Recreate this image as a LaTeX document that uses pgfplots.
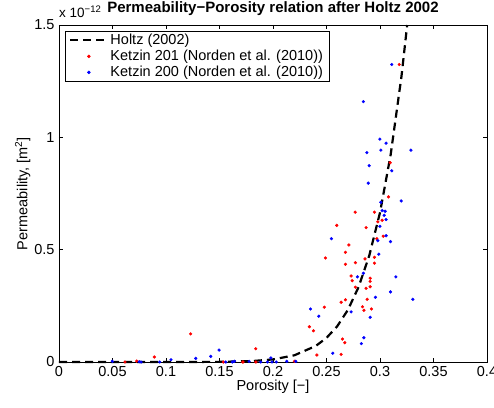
\documentclass[border=0pt]{standalone}
\usepackage{pgfplots}
\pgfplotsset{compat=1.18}
\usepackage{fontspec}
\setmainfont{Liberation Sans}
\pgfplotstableread{
phi k
0.000 0
0.050 0
0.100 0.00001
0.150 0.00065
0.180 0.0040
0.200 0.0115
0.220 0.0299
0.240 0.0714
0.250 0.1074
0.260 0.159
0.270 0.232
0.280 0.334
0.290 0.474
0.300 0.665
0.310 0.924
0.320 1.269
0.3254 1.500
}\holtz
\pgfplotstableread{
phi k
0.123 0.125
0.0891 0.0223
0.0617 0
0.0726 0.004
0.1536 0
0.1718 0
0.1839 0.059
0.184 0
0.220 0.003
0.2596 0.608
0.2709 0.521
0.2677 0.488
0.249 0.463
0.2677 0.435
0.3095 0.887
0.3079 0.735
0.2768 0.667
0.2948 0.667
0.302 0.631
0.298 0.624
0.287 0.598
0.303 0.560
0.297 0.549
0.2948 0.466
0.286 0.459
0.318 1.324
0.2637 0.266
0.2677 0.277
0.248 0.244
0.234 0.157
0.2378 0.139
0.2649 0.102
0.2671 0.086
0.241 0.031
0.2637 0.034
0.172 0
0.277 0.442
0.2948 0.44
0.273 0.383
0.274 0.362
0.2908 0.373
0.2908 0.359
0.277 0.333
0.287 0.328
0.2908 0.335
0.288 0.279
0.2836 0.246
0.292 0.236
0.285 0.230
}\ketzinA
\pgfplotstableread{
phi k
0.311 1.324
0.2845 1.159
0.2999 0.992
0.3057 0.974
0.2877 0.932
0.3008 0.943
0.3289 0.943
0.2546 0.549
0.2899 0.874
0.311 0.851
0.289 0.796
0.3198 0.717
0.3008 0.711
0.302 0.674
0.3048 0.671
0.3039 0.653
0.3057 0.634
0.2999 0.604
0.3057 0.562
0.298 0.540
0.3098 0.536
0.2989 0.480
0.235 0.236
0.2428 0.204
0.2559 0.039
0.198 0.018
0.2789 0.379
0.2845 0.395
0.3148 0.379
0.3098 0.312
0.2957 0.288
0.3307 0.279
0.273 0.223
0.2908 0.199
0.2849 0.108
0.2826 0.082
0.1496 0.053
0.1418 0.025
0.1278 0.016
0.1047 0.010
0.0498 0.003
0.075 0.001
0.0767 0
0.0942 0
0.1559 0
0.162 0
0.164 0.003
0.1777 0.003
0.1886 0
0.1948 0
0.1991 0
0.203 0
0.2129 0.003
0.2213 0.003
}\ketzinB
\begin{document}
\begin{tikzpicture}[x=1pt,y=1pt]
\path[use as bounding box] (0,0) rectangle (494,407);
\begin{axis}[
  at={(59pt,45pt)}, anchor=south west,
  width=428pt, height=337pt, scale only axis,
  xmin=0, xmax=0.4, ymin=0, ymax=1.5,
  clip=false,
  axis line style={line width=0.6pt},
  tick style={black, line width=0.6pt},
  major tick length=4pt,
  tick align=inside,
  xtick={0,0.05,0.1,0.15,0.2,0.25,0.3,0.35,0.4},
  xticklabels={0,0.05,0.1,0.15,0.2,0.25,0.3,0.35,0.4},
  ytick={0,0.5,1,1.5},
  yticklabels={0,0.5,1,1.5},
  /pgf/number format/assume math mode=true,
  tick label style={font=\fontsize{14.5}{17}\selectfont},
  xticklabel style={yshift=-1pt},
  yticklabel style={xshift=-1pt},
  xlabel={Porosity [−]},
  ylabel={Permeability, [m\textsuperscript{2}]},
  label style={font=\fontsize{14.5}{17}\selectfont},
  xlabel style={yshift=4pt},
  ylabel style={yshift=-3pt},
  legend cell align=left,
  legend style={at={(0.014,0.982)}, anchor=north west, draw=black, line width=0.6pt,
    font=\fontsize{14.5}{17}\selectfont, row sep=0pt, inner xsep=4pt, inner ysep=1pt,
    fill=white},
]
\addplot[black, line width=2.2pt, dash pattern=on 8pt off 5pt,
  legend image code/.code={\draw[black, line width=2.2pt, dash pattern=on 8pt off 5pt] (0pt,0pt) -- (37pt,0pt);}]
  table[x=phi,y=k]{\holtz};
\addlegendentry{Holtz (2002)}
\addplot[only marks, mark=*, mark size=1.4pt, red, mark options={draw=red, fill=red},
  legend image code/.code={\fill[red] (18.5pt,0pt) circle (1.4pt); \path (37pt,0pt);}]
  table[x=phi,y=k]{\ketzinA};
\addlegendentry{Ketzin 201 (Norden et al. (2010))}
\addplot[only marks, mark=*, mark size=1.4pt, blue, mark options={draw=blue, fill=blue},
  legend image code/.code={\fill[blue] (18.5pt,0pt) circle (1.4pt); \path (37pt,0pt);}]
  table[x=phi,y=k]{\ketzinB};
\addlegendentry{Ketzin 200 (Norden et al. (2010))}
\end{axis}
\node[anchor=base west, font=\fontsize{13.5}{16}\selectfont, inner sep=0pt] at (59,389) {x 10\raisebox{5pt}{\fontsize{9.5}{11}\selectfont −12}};
\node[anchor=base, font=\fontsize{15}{18}\selectfont\bfseries, inner sep=0pt] at (273,394) {Permeability−Porosity relation after Holtz 2002};
\end{tikzpicture}
\end{document}
